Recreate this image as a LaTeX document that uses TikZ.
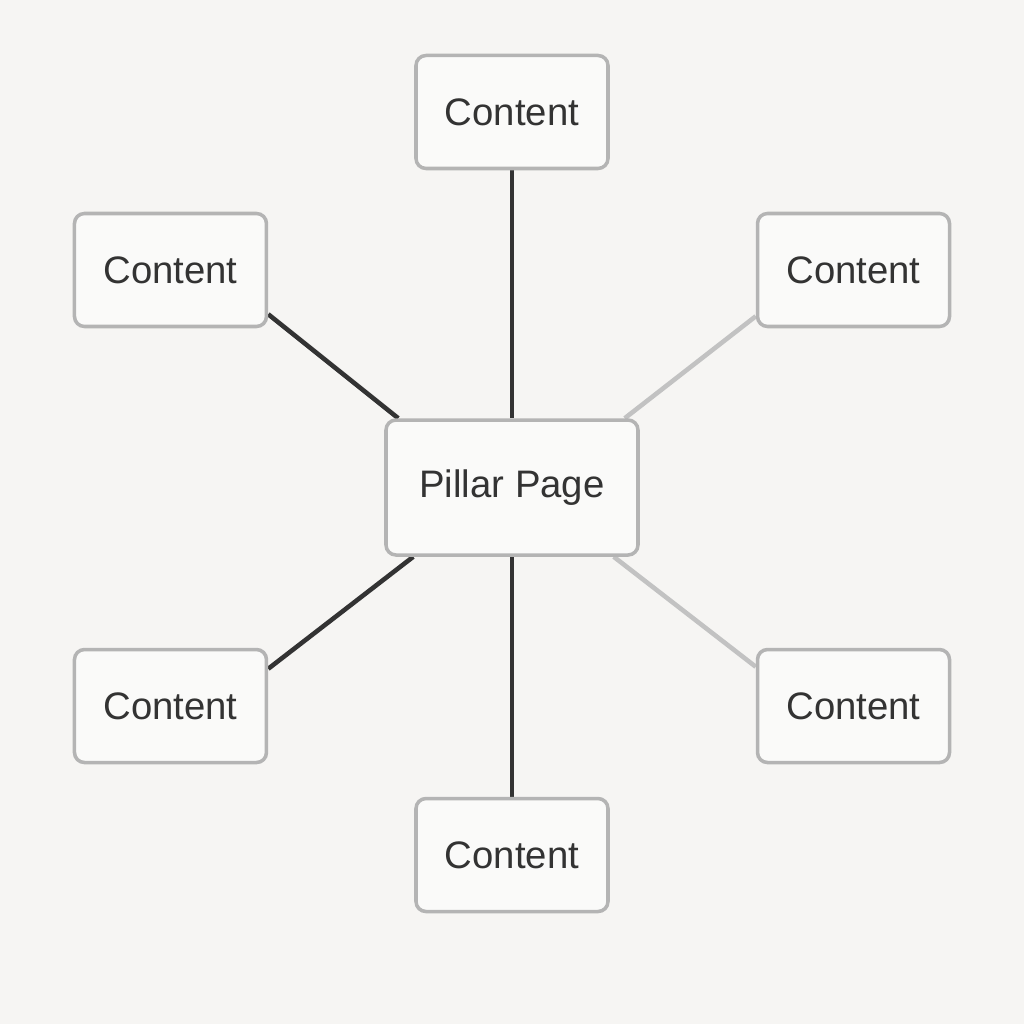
\documentclass[tikz,border=0pt]{standalone}
\usepackage{fontspec}
\setmainfont{Liberation Sans}
\usetikzlibrary{positioning,backgrounds}
\definecolor{paper}{HTML}{F6F5F3}
\definecolor{boxfill}{HTML}{FAFAF9}
\definecolor{boxedge}{HTML}{B4B4B4}
\definecolor{inkdark}{HTML}{333333}
\definecolor{inklight}{HTML}{C2C2C2}
\begin{document}
\begin{tikzpicture}[
        font=\fontsize{10.9}{13}\selectfont,
        card/.style={draw=boxedge, line width=1pt, fill=boxfill, rounded corners=0.1cm, text=inkdark, inner sep=0pt, minimum width=1.92cm, minimum height=1.13cm},
        hub/.style={card, minimum width=2.52cm, minimum height=1.35cm},
        darklink/.style={draw=inkdark, line width=1.3pt},
        lightlink/.style={draw=inklight, line width=1.3pt}
    ]
        \useasboundingbox (0,0) rectangle (10.24,-10.24);
        \node[hub] (pillar) at (5.12,-4.875) {Pillar Page};
        \node[card, above=2.48cm of pillar] (top) {Content};
        \node[card, above left=0.90cm and 1.16cm of pillar] (upleft) {Content};
        \node[card, above right=0.90cm and 1.16cm of pillar] (upright) {Content};
        \node[card, below left=0.91cm and 1.16cm of pillar] (lowleft) {Content};
        \node[card, below right=0.91cm and 1.16cm of pillar] (lowright) {Content};
        \node[card, below=2.40cm of pillar] (bottom) {Content};

        \begin{scope}[on background layer]
            \fill[paper] (0,0) rectangle (10.24,-10.24);
            \draw[darklink] (top) -- (pillar);
            \draw[darklink] (bottom) -- (pillar);
            \draw[darklink] ([yshift=0.14cm]upleft.south east) -- ([xshift=0.14cm]pillar.north west);
            \draw[lightlink] ([yshift=0.12cm]upright.south west) -- ([xshift=-0.15cm]pillar.north east);
            \draw[darklink] ([yshift=-0.21cm]lowleft.north east) -- ([xshift=0.29cm]pillar.south west);
            \draw[lightlink] ([yshift=-0.19cm]lowright.north west) -- ([xshift=-0.26cm]pillar.south east);
        \end{scope}
    \end{tikzpicture}
\end{document}
